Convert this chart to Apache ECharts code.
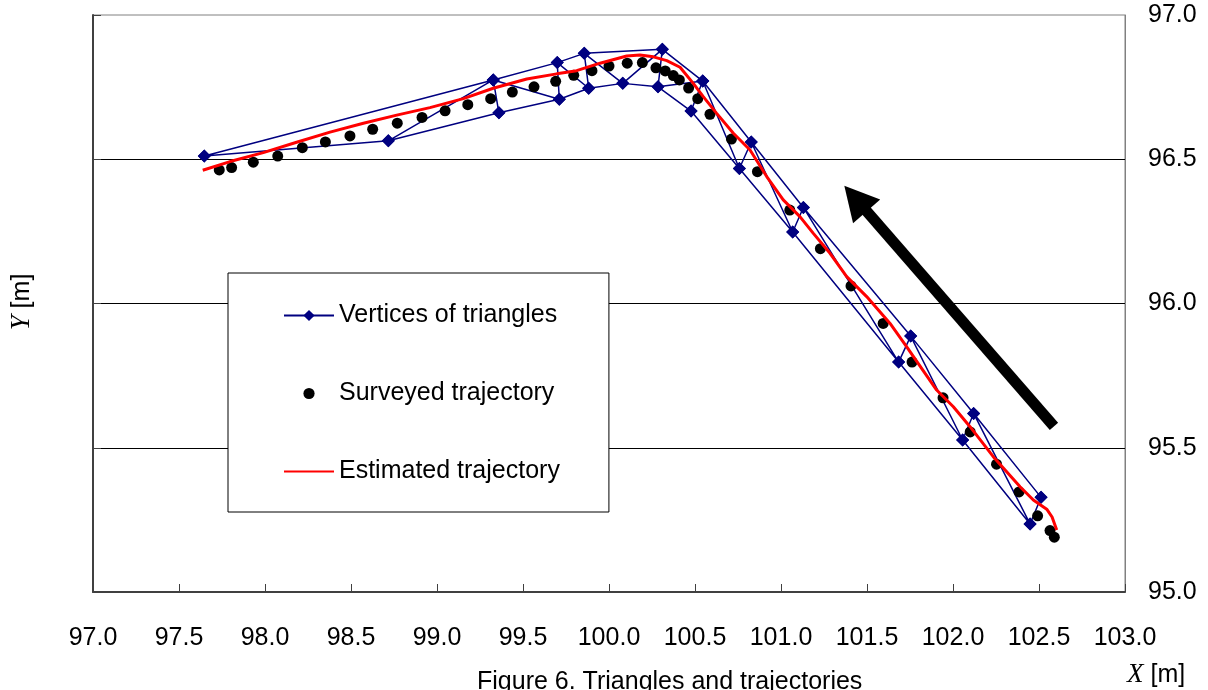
<!DOCTYPE html>
<html>
<head>
<meta charset="utf-8">
<title>Figure 6. Triangles and trajectories</title>
<script src="https://cdn.jsdelivr.net/npm/echarts@6/dist/echarts.min.js"></script>
<style>
  html, body { margin: 0; padding: 0; background: #fff; }
  #chart { width: 1208px; height: 690px; }
</style>
</head>
<body>
<div id="chart"></div>
<script>
// triangle vertices A..W
const vertexX = [97.647, 98.717, 99.327, 99.360, 99.699, 99.711, 99.856, 99.882, 100.080, 100.310,
  100.285, 100.545, 100.477, 100.758, 100.827, 101.068, 101.130, 101.684, 101.754, 102.056,
  102.120, 102.448, 102.512];
const vertexY = [96.511, 96.564, 96.775, 96.661, 96.835, 96.708, 96.867, 96.746, 96.763, 96.881,
  96.751, 96.771, 96.667, 96.468, 96.560, 96.248, 96.333, 95.797, 95.887, 95.527,
  95.619, 95.236, 95.328];

// edges of the triangle strip, as vertex indices
const upperEdge = [0, 2, 4, 6, 9, 11, 14, 16, 18, 20, 22];
const lowerEdge = [0, 1, 3, 5, 7, 8, 10, 12, 13, 15, 17, 19, 21];
const diagonals = [
  [1, 2, 3],
  [2, 5, 4, 7, 6, 8, 9, 10, 11, 12],
  [11, 13, 14, 15, 16, 17, 18, 19, 20, 21, 22]
];

// surveyed trajectory
const surveyedX = [97.734, 97.806, 97.932, 98.074, 98.217, 98.351, 98.494, 98.626, 98.769, 98.913,
  99.047, 99.179, 99.312, 99.438, 99.564, 99.690, 99.795, 99.901, 100.000, 100.106,
  100.194, 100.273, 100.327, 100.374, 100.409, 100.463, 100.516, 100.587, 100.712, 100.863,
  101.051, 101.229, 101.407, 101.594, 101.762, 101.942, 102.100, 102.253, 102.384, 102.492,
  102.564, 102.589];
const surveyedY = [96.463, 96.471, 96.490, 96.511, 96.540, 96.560, 96.581, 96.604, 96.625, 96.645,
  96.668, 96.689, 96.710, 96.733, 96.751, 96.770, 96.791, 96.807, 96.823, 96.833,
  96.835, 96.817, 96.806, 96.790, 96.775, 96.747, 96.710, 96.656, 96.570, 96.457,
  96.324, 96.190, 96.061, 95.931, 95.797, 95.673, 95.555, 95.443, 95.347, 95.264,
  95.213, 95.190];

// estimated trajectory
const estimatedX = [97.638, 97.797, 97.990, 98.184, 98.378, 98.572, 98.766, 98.959, 99.153, 99.327,
  99.522, 99.696, 99.812, 99.948, 100.103, 100.180, 100.258, 100.336, 100.413, 100.490,
  100.548, 100.626, 100.723, 100.820, 100.917, 101.013, 101.110, 101.188, 101.285, 101.382,
  101.498, 101.634, 101.731, 101.905, 102.002, 102.099, 102.234, 102.390, 102.467, 102.545,
  102.576, 102.603];
const estimatedY = [96.462, 96.492, 96.523, 96.559, 96.594, 96.625, 96.653, 96.679, 96.710, 96.746,
  96.778, 96.796, 96.807, 96.833, 96.858, 96.861, 96.855, 96.842, 96.819, 96.763,
  96.717, 96.659, 96.590, 96.532, 96.440, 96.359, 96.301, 96.243, 96.174, 96.093,
  96.024, 95.931, 95.850, 95.700, 95.642, 95.573, 95.469, 95.365, 95.319, 95.287,
  95.260, 95.215];

// direction arrow (tail, head centre)
const arrowFrom = [102.587, 95.574];
const arrowTo = [101.433, 96.364];

const xRange = [97, 103];
const yRange = [95, 97];
const tickStep = 0.5;

const FONT = "'Liberation Sans', Arial, sans-serif";
const SERIF = "'Liberation Serif', 'Times New Roman', serif";

const vertexData = [];
[upperEdge, lowerEdge, ...diagonals].forEach((path) => {
  path.forEach((i) => vertexData.push([vertexX[i], vertexY[i]]));
  vertexData.push(['-', '-']);
});
const surveyedData = surveyedX.map((x, i) => [x, surveyedY[i]]);
const estimatedData = estimatedX.map((x, i) => [x, estimatedY[i]]);

const chart = echarts.init(document.getElementById('chart'));

const option = {
  animation: false,
  backgroundColor: '#fff',
  title: {
    text: 'Figure 6. Triangles and trajectories',
    left: 477,
    top: 670,
    padding: 0,
    textStyle: { fontSize: 25, fontWeight: 'normal', color: '#000', fontFamily: FONT }
  },
  grid: {
    left: 93,
    right: 83,
    top: 15,
    bottom: 98,
    show: true,
    borderColor: '#808080',
    borderWidth: 1
  },
  legend: {
    orient: 'vertical',
    left: 228,
    top: 273,
    padding: [30, 49, 28, 55],
    itemGap: 53,
    itemWidth: 50,
    itemHeight: 14,
    backgroundColor: '#fff',
    borderColor: '#000',
    borderWidth: 1,
    selectedMode: false,
    textStyle: { fontSize: 25, color: '#000', fontFamily: FONT },
    data: [
      'Vertices of triangles',
      'Surveyed trajectory',
      { name: 'Estimated trajectory', itemStyle: { opacity: 0 } }
    ]
  },
  xAxis: {
    type: 'value',
    min: xRange[0],
    max: xRange[1],
    interval: tickStep,
    axisLine: { lineStyle: { color: '#404040', width: 2 } },
    axisTick: { inside: true, length: 8, lineStyle: { color: '#404040' } },
    axisLabel: {
      formatter: (v) => v.toFixed(1),
      fontSize: 25,
      color: '#000',
      fontFamily: FONT,
      margin: 34
    },
    splitLine: { show: false }
  },
  yAxis: [
    {
      type: 'value',
      position: 'left',
      min: yRange[0],
      max: yRange[1],
      interval: tickStep,
      axisLine: { show: true, lineStyle: { color: '#404040', width: 2 } },
      axisTick: { show: true, inside: true, length: 8, lineStyle: { color: '#404040' } },
      axisLabel: { show: false },
      splitLine: { show: false }
    },
    {
      type: 'value',
      position: 'right',
      min: yRange[0],
      max: yRange[1],
      interval: tickStep,
      axisLine: { show: true, lineStyle: { color: '#808080' } },
      axisTick: { show: false },
      axisLabel: {
        formatter: (v) => v.toFixed(1),
        fontSize: 25,
        color: '#000',
        fontFamily: FONT,
        margin: 23
      },
      splitLine: {
        show: true,
        showMinLine: false,
        showMaxLine: false,
        lineStyle: { color: '#000', width: 1 }
      }
    }
  ],
  graphic: [
    {
      type: 'text',
      x: 1127,
      y: 675,
      style: {
        text: '{i|X} [m]',
        fontSize: 25,
        fontFamily: FONT,
        fill: '#000',
        verticalAlign: 'middle',
        rich: { i: { fontFamily: SERIF, fontStyle: 'italic', fontSize: 27 } }
      }
    },
    {
      type: 'text',
      x: 22,
      y: 302,
      rotation: Math.PI / 2,
      style: {
        text: '{i|Y} [m]',
        fontSize: 25,
        fontFamily: FONT,
        fill: '#000',
        align: 'center',
        verticalAlign: 'middle',
        rich: { i: { fontFamily: SERIF, fontStyle: 'italic', fontSize: 27 } }
      }
    }
  ],
  series: [
    {
      name: 'Vertices of triangles',
      type: 'line',
      data: vertexData,
      connectNulls: false,
      symbol: 'diamond',
      symbolSize: 13,
      showAllSymbol: true,
      color: '#000080',
      lineStyle: { color: '#000080', width: 1.5 },
      itemStyle: { color: '#000080' },
      z: 2
    },
    {
      name: 'Surveyed trajectory',
      type: 'line',
      data: surveyedData,
      symbol: 'circle',
      symbolSize: 11,
      showAllSymbol: true,
      color: '#000',
      lineStyle: { width: 0 },
      itemStyle: { color: '#000' },
      z: 3
    },
    {
      name: 'Estimated trajectory',
      type: 'line',
      data: estimatedData,
      symbol: 'none',
      color: '#ff0000',
      lineStyle: { color: '#ff0000', width: 3 },
      z: 4,
      markLine: {
        silent: true,
        symbol: ['none', 'triangle'],
        symbolSize: [36, 34],
        label: { show: false },
        lineStyle: { color: '#000', width: 11, type: 'solid' },
        emphasis: { disabled: true },
        data: [[{ coord: arrowFrom }, { coord: arrowTo }]]
      }
    }
  ]
};

chart.setOption(option);
window.addEventListener('resize', () => chart.resize());
</script>
</body>
</html>
